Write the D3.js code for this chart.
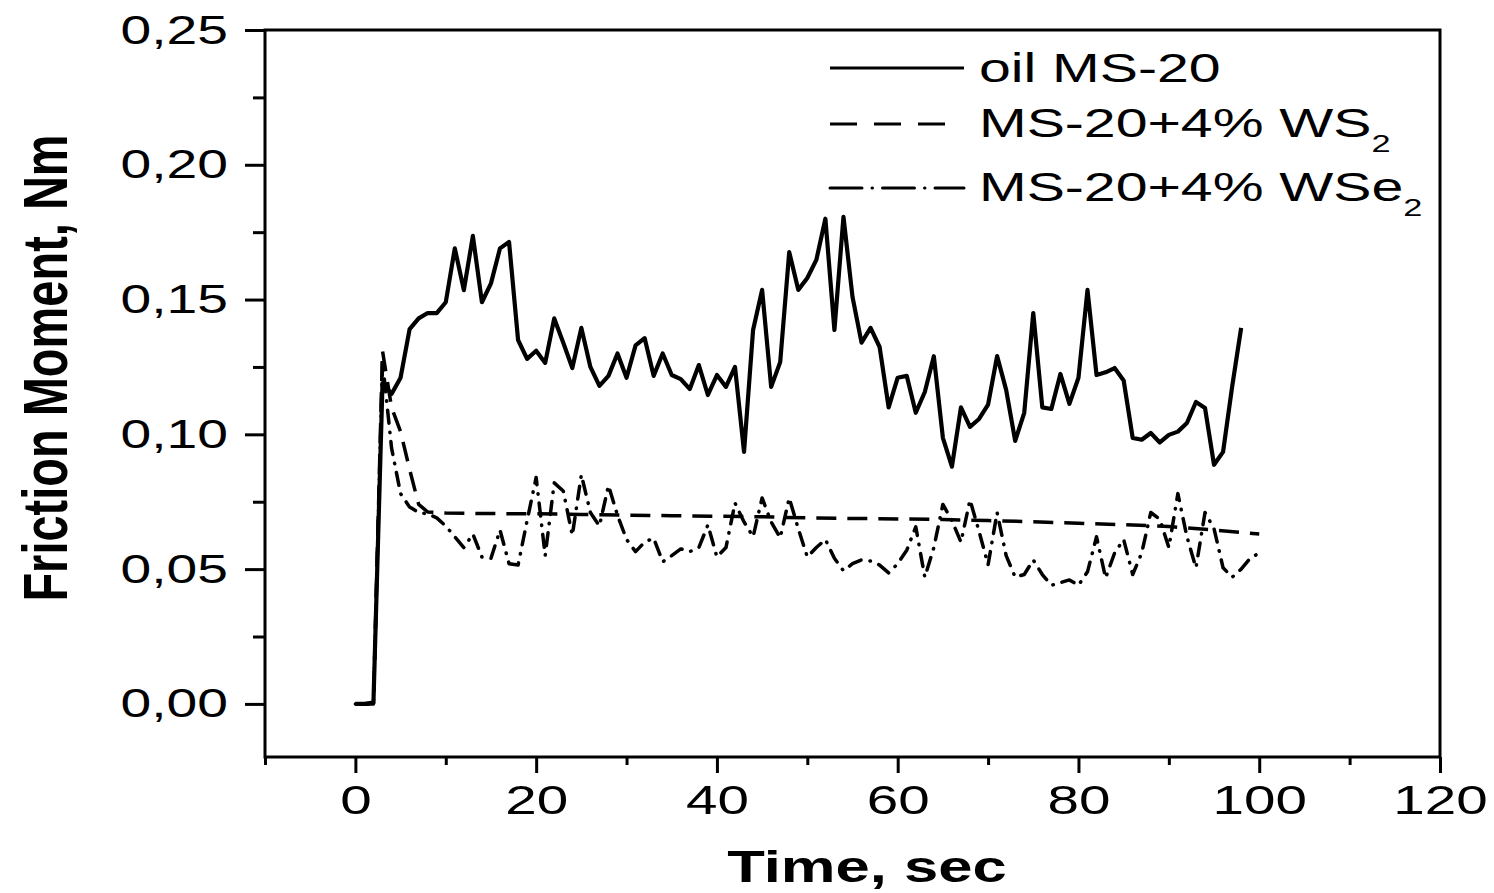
<!DOCTYPE html>
<html>
<head>
<meta charset="utf-8">
<script src="https://cdn.jsdelivr.net/npm/d3@7"></script>
<style>
  html, body { margin: 0; padding: 0; background: #fff; }
  svg { display: block; }
  text { font-family: "Liberation Sans", Arial, sans-serif; fill: #000; }
</style>
</head>
<body>
<svg id="chart" width="1494" height="893"></svg>
<script>
// ---- data ----
const timeOil = [0,1,2,3,4,5,6,7,8,9,10,11,12,13,14,15,16,17,18,19,20,21,22,23,24,25,26,27,28,29,30,31,32,33,34,35,36,37,38,39,40,41,42,43,44,45,46,47,48,49,50,51,52,53,54,55,56,57,58,59,60,61,62,63,64,65,66,67,68,69,70,71,72,73,74,75,76,77,78,79,80,81,82,83,84,85,86,87,88,89,90,91,92,93,94,95,96,97,98];
const oilMS20 = [0,0,0.0005,0.119,0.115,0.121,0.139,0.143,0.145,0.145,0.149,0.169,0.1535,0.1736,0.149,0.156,0.169,0.1714,0.135,0.128,0.131,0.1265,0.143,0.134,0.1246,0.1395,0.125,0.118,0.1217,0.130,0.121,0.133,0.1357,0.1217,0.130,0.122,0.1205,0.1168,0.1257,0.1146,0.122,0.1176,0.125,0.0935,0.1387,0.1536,0.1176,0.1268,0.1676,0.1536,0.158,0.1647,0.180,0.1387,0.1807,0.151,0.134,0.1395,0.1324,0.110,0.121,0.1217,0.108,0.1157,0.129,0.0987,0.088,0.110,0.1028,0.1057,0.111,0.129,0.1165,0.0976,0.108,0.145,0.110,0.1094,0.1224,0.1113,0.121,0.1536,0.122,0.123,0.1246,0.120,0.0987,0.098,0.1005,0.097,0.0998,0.101,0.1042,0.112,0.1098,0.0887,0.0935,0.1176,0.1395];

const timeWS2 = [0,1,2,3,4,5,6,7,8,10,15,20,25,30,35,40,45,50,55,60,65,70,75,80,85,90,95,100];
const ws2 = [0,0,0,0.131,0.110,0.101,0.087,0.074,0.0712,0.0708,0.0706,0.0705,0.0703,0.0700,0.0698,0.0696,0.0694,0.0690,0.0688,0.0686,0.0684,0.0680,0.0676,0.0670,0.0665,0.0658,0.0645,0.0630];

const timeWSe2 = [0,1,2,3,4,5,6,7,8,9,10,11,12,13,14,15,16,17,18,19,20,21,22,23,24,25,26,27,28,29,30,31,32,33,34,35,36,37,38,39,40,41,42,43,44,45,46,47,48,49,50,51,52,53,54,55,56,57,58,59,60,61,62,63,64,65,66,67,68,69,70,71,72,73,74,75,76,77,78,79,80,81,82,83,84,85,86,87,88,89,90,91,92,93,94,95,96,97,98,99,100];
const wse2 = [0,0,0,0.127,0.095,0.078,0.073,0.071,0.0705,0.069,0.066,0.062,0.058,0.063,0.0545,0.054,0.0645,0.052,0.0515,0.068,0.084,0.055,0.082,0.079,0.0625,0.085,0.071,0.066,0.081,0.070,0.061,0.0565,0.060,0.0615,0.0527,0.055,0.0575,0.0565,0.058,0.0664,0.0545,0.058,0.0745,0.0675,0.062,0.0764,0.0675,0.0616,0.0764,0.065,0.0545,0.058,0.061,0.054,0.0494,0.052,0.0534,0.053,0.0515,0.0486,0.052,0.057,0.0657,0.047,0.058,0.074,0.068,0.060,0.0757,0.064,0.0516,0.071,0.055,0.047,0.048,0.0534,0.048,0.044,0.045,0.046,0.044,0.049,0.062,0.0467,0.056,0.061,0.048,0.056,0.071,0.0685,0.058,0.078,0.062,0.0505,0.071,0.065,0.0505,0.047,0.050,0.054,0.056];

const xMajorTicks = [0,20,40,60,80,100,120];
const xMinorTicks = [-10,10,30,50,70,90,110];
const yMajorTicks = [0,0.05,0.10,0.15,0.20,0.25];
const yMinorTicks = [0.025,0.075,0.125,0.175,0.225];
const seriesNames = ["oil MS-20","MS-20+4% WS","MS-20+4% WSe"];
const seriesSubs = ["","2","2"];
const xTitle = "Time, sec";
const yTitle = "Friction Moment, Nm";

// ---- drawing ----
const svg = d3.select("#chart");
const L = 265, R = 1440, T = 30, B = 757;
const x = d3.scaleLinear().domain([-10,120]).range([L,R]);
const y = d3.scaleLinear().domain([-0.0197,0.25]).range([B,T]);

const SX = 1.38; // horizontal stretch of the original picture

const line = d3.line().x(d => x(d[0])).y(d => y(d[1]));
const zip = (a,b) => a.map((t,i) => [t,b[i]]);

const plot = svg.append("g");
plot.append("path").datum(zip(timeWSe2, wse2))
  .attr("d", line).attr("fill","none").attr("stroke","#000")
  .attr("stroke-width",3.5).attr("stroke-linecap","round").attr("stroke-linejoin","round")
  .attr("stroke-dasharray","13,9,0.5,9");
plot.append("path").datum(zip(timeWS2, ws2))
  .attr("d", line).attr("fill","none").attr("stroke","#000")
  .attr("stroke-width",3.5).attr("stroke-linejoin","round")
  .attr("stroke-dasharray","20,11");
plot.append("path").datum(zip(timeOil, oilMS20))
  .attr("d", line).attr("fill","none").attr("stroke","#000")
  .attr("stroke-width",4.2).attr("stroke-linejoin","round");

// frame
svg.append("rect").attr("x",L).attr("y",T).attr("width",R-L).attr("height",B-T)
  .attr("fill","none").attr("stroke","#000").attr("stroke-width",3);

// y axis
const fmtY = d => d3.format(".2f")(d).replace(".",",");
const gy = svg.append("g").attr("transform",`translate(${L},0)`)
  .call(d3.axisLeft(y).tickValues(yMajorTicks).tickSize(20).tickFormat(fmtY));
gy.select(".domain").remove();
gy.selectAll(".tick line").attr("stroke","#000").attr("stroke-width",3);
gy.selectAll(".tick text")
  .attr("x",null).attr("dy",null).attr("fill","#000")
  .style("font-size","40px")
  .attr("transform",`translate(-37,13) scale(${SX},1)`);
const gyMinor = svg.append("g").attr("transform",`translate(${L},0)`)
  .call(d3.axisLeft(y).tickValues(yMinorTicks).tickSize(12).tickFormat(""));
gyMinor.select(".domain").remove();
gyMinor.selectAll(".tick line").attr("stroke","#000").attr("stroke-width",3);

// x axis
const gx = svg.append("g").attr("transform",`translate(0,${B})`)
  .call(d3.axisBottom(x).tickValues(xMajorTicks).tickSize(16).tickFormat(d3.format("d")));
gx.select(".domain").remove();
gx.selectAll(".tick line").attr("stroke","#000").attr("stroke-width",3);
gx.selectAll(".tick text")
  .attr("y",null).attr("dy",null).attr("fill","#000")
  .style("font-size","41px")
  .attr("transform",`translate(0,57) scale(${SX},1)`);
const gxMinor = svg.append("g").attr("transform",`translate(0,${B})`)
  .call(d3.axisBottom(x).tickValues(xMinorTicks).tickSize(8).tickFormat(""));
gxMinor.select(".domain").remove();
gxMinor.selectAll(".tick line").attr("stroke","#000").attr("stroke-width",3);

// axis titles
svg.append("text")
  .attr("transform",`translate(867,882) scale(1.4,1)`)
  .attr("text-anchor","middle")
  .style("font-size","44px").style("font-weight","bold")
  .text(xTitle);
svg.append("text")
  .attr("transform",`translate(67,368) rotate(-90) scale(1,1.32)`)
  .attr("text-anchor","middle")
  .style("font-size","47px").style("font-weight","bold")
  .text(yTitle);

// legend
const legY = [68, 124, 188];
const legBase = [82, 137, 201];
const legDash = [null, "27,17", "32,10,0.5,10"];
const leg = svg.append("g");
seriesNames.forEach((name,i) => {
  leg.append("line")
    .attr("x1",830).attr("x2",i===1 ? 945 : 964)
    .attr("y1",legY[i]).attr("y2",legY[i])
    .attr("stroke","#000").attr("stroke-width",3)
    .attr("stroke-linecap", i===2 ? "round" : "butt")
    .attr("stroke-dasharray", legDash[i]);
  const t = leg.append("text")
    .attr("transform",`translate(979,${legBase[i]}) scale(1.43,1)`)
    .style("font-size","40px");
  t.append("tspan").text(name);
  if (seriesSubs[i]) {
    t.append("tspan").attr("dy",15).style("font-size","24px").text(seriesSubs[i]);
  }
});
</script>
</body>
</html>
